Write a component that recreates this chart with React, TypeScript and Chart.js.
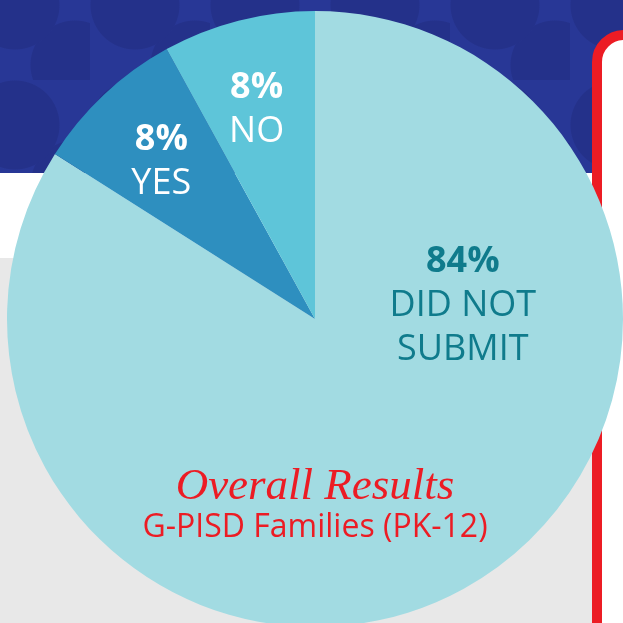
import { useEffect, useRef } from "react";
import { Chart, registerables } from "chart.js";

Chart.register(...registerables);

const categories = ["DID NOT SUBMIT", "YES", "NO"];
const values = [84, 8, 8];
const percentLabels = ["84%", "8%", "8%"];
const nameLines = [["DID NOT", "SUBMIT"], ["YES"], ["NO"]];
const sliceColors = ["#a2dbe2", "#2e8fbf", "#5ec5d9"];
const labelColors = ["#0f7b8c", "#ffffff", "#ffffff"];
const titleText = "Overall Results";
const subtitleText = "G-PISD Families (PK-12)";

const labelPlugin = {
  id: "sliceLabels",
  afterDatasetsDraw(chart: any) {
    const ctx = chart.ctx as CanvasRenderingContext2D;
    const meta = chart.getDatasetMeta(0);
    const first = meta.data[0] as any;
    const cx = first.x;
    const cy = first.y;
    const r = first.outerRadius;
    const size = 36;
    const cap = size * 0.714;
    const lineGap = 44;
    ctx.save();
    ctx.textAlign = "center";
    ctx.textBaseline = "alphabetic";
    meta.data.forEach((arc: any, i: number) => {
      let px: number, py: number;
      if (i === 0) {
        px = cx + 0.48 * r;
        py = cy - 0.052 * r;
      } else {
        const mid = (arc.startAngle + arc.endAngle) / 2;
        px = cx + Math.cos(mid) * 0.71 * r - 4;
        py = cy + Math.sin(mid) * 0.71 * r;
      }
      const lines = [percentLabels[i], ...nameLines[i]];
      const startMid = py - ((lines.length - 1) * lineGap) / 2;
      lines.forEach((t, j) => {
        ctx.fillStyle = labelColors[i];
        ctx.font = (j === 0 ? "bold " : "") + size + 'px "Open Sans"';
        ctx.fillText(t, px, startMid + j * lineGap + cap / 2);
      });
    });
    ctx.fillStyle = "#ec1c24";
    ctx.font = 'italic 45px "Liberation Serif"';
    ctx.fillText(titleText, cx, cy + 0.54 * r + 14);
    ctx.font = '32px "Open Sans"';
    ctx.fillText(subtitleText, cx, cy + 0.672 * r + 11);
    ctx.restore();
  },
};

export default function App() {
  const ref = useRef<HTMLCanvasElement | null>(null);
  useEffect(() => {
    if (!ref.current) return;
    const chart = new Chart(ref.current, {
      type: "pie",
      data: {
        labels: categories,
        datasets: [
          {
            data: values,
            backgroundColor: sliceColors,
            borderWidth: 0,
          },
        ],
      },
      options: {
        animation: false,
        responsive: false,
        maintainAspectRatio: false,
        layout: { padding: { left: 7, right: 17, top: 11, bottom: 13 } },
        plugins: {
          legend: { display: false },
          tooltip: { enabled: false },
        },
      },
      plugins: [labelPlugin],
    });
    return () => chart.destroy();
  }, []);

  const pattern =
    "radial-gradient(circle at 45px 45px, #24318a 0 44px, transparent 45px)," +
    "radial-gradient(circle at 105px 105px, #24318a 0 44px, transparent 45px)";

  return (
    <div
      style={{
        position: "fixed",
        left: 0,
        top: 0,
        width: 623,
        height: 623,
        overflow: "hidden",
        background: "#e8e8e8",
      }}
    >
      <div
        style={{
          position: "absolute",
          left: 0,
          top: 0,
          width: 623,
          height: 173,
          backgroundColor: "#283796",
          backgroundImage: pattern,
          backgroundSize: "120px 120px",
          backgroundPosition: "-30px -40px",
        }}
      />
      <div
        style={{
          position: "absolute",
          left: 0,
          top: 173,
          width: 623,
          height: 85,
          background: "#ffffff",
        }}
      />
      <div
        style={{
          position: "absolute",
          left: 592,
          top: 30,
          width: 100,
          height: 700,
          boxSizing: "border-box",
          border: "10px solid #ec1c24",
          borderRadius: 32,
          background: "#ffffff",
        }}
      />
      <canvas
        ref={ref}
        width={640}
        height={640}
        style={{ position: "absolute", left: 0, top: 0, width: 640, height: 640 }}
      />
    </div>
  );
}
